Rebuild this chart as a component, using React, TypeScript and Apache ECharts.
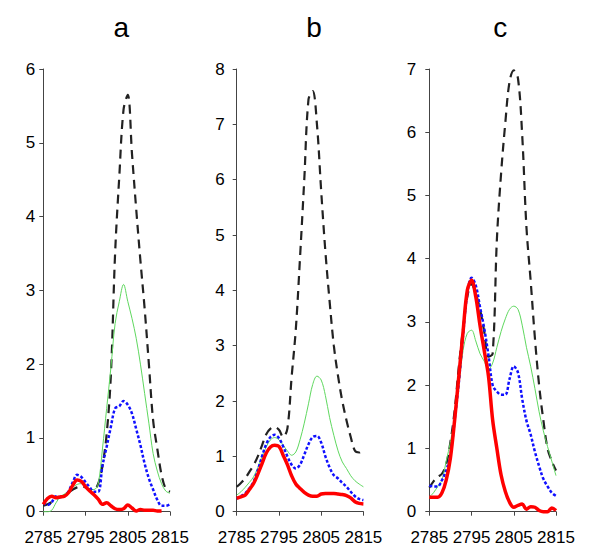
import React, { useEffect, useRef } from "react";
import * as echarts from "echarts";

const xValues = [2785, 2786, 2787, 2788, 2789, 2790, 2791, 2792, 2793, 2794, 2795, 2796, 2797, 2798, 2799, 2800, 2801, 2802, 2803, 2804, 2805, 2806, 2807, 2808, 2809, 2810, 2811, 2812, 2813, 2814, 2815];

const panelTitles = ["a", "b", "c"];
const yMax = [6, 8, 7];

// panel a
const blackA = [0.08, 0.10, 0.13, 0.17, 0.20, 0.22, 0.26, 0.30, 0.33, 0.34, 0.33, 0.30, 0.30, 0.38, 0.62, 1.05, 1.85, 3.5, 4.55, 5.45, 5.65, 4.85, 4.1, 3.4, 2.75, 2.0, 1.24, 0.85, 0.5, 0.31, 0.27];
const greenA = [0, 0, 0.02, 0.12, 0.2, 0.24, 0.28, 0.33, 0.37, 0.38, 0.35, 0.3, 0.3, 0.38, 0.85, 1.4, 1.95, 2.55, 2.85, 3.08, 2.85, 2.62, 2.35, 2.0, 1.6, 1.2, 0.79, 0.55, 0.38, 0.28, 0.25];
const blueA = [0.12, 0.09, 0.13, 0.21, 0.2, 0.21, 0.28, 0.4, 0.5, 0.47, 0.4, 0.33, 0.27, 0.27, 0.62, 0.88, 1.15, 1.4, 1.43, 1.5, 1.45, 1.33, 1.12, 0.9, 0.65, 0.45, 0.3, 0.16, 0.08, 0.08, 0.1];
const redA = [0.1, 0.18, 0.21, 0.19, 0.2, 0.21, 0.26, 0.36, 0.43, 0.41, 0.34, 0.28, 0.23, 0.17, 0.1, 0.12, 0.08, 0.04, 0.03, 0.04, 0.09, 0.05, 0.01, 0.03, 0.02, 0.02, 0.02, 0.01, 0.01, null, null];

// panel b
const blackB = [0.45, 0.52, 0.6, 0.72, 0.84, 1.0, 1.2, 1.4, 1.5, 1.53, 1.48, 1.35, 1.5, 2.43, 3.3, 4.6, 6.0, 7.45, 7.6, 7.0, 5.8, 4.7, 3.8, 3.0, 2.45, 2.0, 1.65, 1.35, 1.1, 1.07, 1.15];
const greenB = [0.3, 0.36, 0.44, 0.53, 0.63, 0.8, 1.0, 1.17, 1.3, 1.34, 1.3, 1.2, 1.1, 1.02, 1.08, 1.3, 1.6, 1.95, 2.3, 2.45, 2.38, 2.1, 1.7, 1.38, 1.1, 0.9, 0.78, 0.65, 0.56, 0.5, 0.45];
const blueB = [0.24, 0.28, 0.33, 0.42, 0.54, 0.75, 1.0, 1.22, 1.35, 1.39, 1.33, 1.18, 1.0, 0.85, 0.78, 0.85, 1.03, 1.22, 1.35, 1.37, 1.25, 1.0, 0.8, 0.66, 0.6, 0.52, 0.45, 0.36, 0.28, 0.23, 0.21];
const redB = [0.24, 0.27, 0.3, 0.4, 0.51, 0.68, 0.87, 1.06, 1.17, 1.2, 1.18, 1.02, 0.85, 0.65, 0.5, 0.42, 0.35, 0.3, 0.28, 0.28, 0.32, 0.33, 0.33, 0.33, 0.32, 0.31, 0.29, 0.25, 0.18, 0.15, 0.14];

// panel c
const blackC = [0.38, 0.48, 0.55, 0.6, 0.75, 1.1, 1.6, 2.3, 2.9, 3.4, 3.6, 3.45, 3.2, 2.85, 2.45, 2.5, 4.3, 5.35, 6.15, 6.8, 6.98, 6.85, 5.95, 4.5, 3.65, 2.75, 2.0, 1.45, 1.0, 0.8, 0.65];
const greenC = [0.23, 0.3, 0.4, 0.5, 0.8, 1.1, 1.5, 2.0, 2.55, 2.82, 2.87, 2.7, 2.5, 2.38, 2.25, 2.35, 2.6, 2.85, 3.05, 3.2, 3.25, 3.2, 2.95, 2.6, 2.3, 1.95, 1.58, 1.28, 1.03, 0.8, 0.57];
const blueC = [0.41, 0.4, 0.4, 0.5, 0.65, 0.9, 1.45, 2.05, 2.8, 3.45, 3.7, 3.58, 3.24, 2.9, 2.48, 2.0, 1.9, 1.85, 1.85, 2.1, 2.3, 2.2, 1.78, 1.44, 1.22, 0.95, 0.72, 0.52, 0.4, 0.3, 0.25];
const redC = [0.23, 0.23, 0.23, 0.3, 0.5, 0.85, 1.45, 2.15, 2.85, 3.5, 3.66, 3.4, 2.95, 2.55, 2.15, 1.45, 1.0, 0.58, 0.32, 0.15, 0.07, 0.1, 0.12, 0.04, 0.08, 0.07, 0.02, 0.0, 0.0, 0.06, 0.02];

const panels = [
  { black: blackA, green: greenA, blue: blueA, red: redA },
  { black: blackB, green: greenB, blue: blueB, red: redB },
  { black: blackC, green: greenC, blue: blueC, red: redC },
];

const gridLefts = [43.3, 236.7, 429.3];
const yLabelMargins = [8, 12, 13];
const titleX = [121.3, 314, 500.3];

const FONT = "Arial, 'Liberation Sans', sans-serif";

export default function App() {
  const ref = useRef<HTMLDivElement>(null);
  useEffect(() => {
    if (!ref.current) return;
    const chart = echarts.init(ref.current, undefined, { renderer: "svg" });
    const pair = (ys: (number | null)[]) => xValues.map((x, i) => [x, ys[i]]);
    const grids = gridLefts.map((l) => ({ left: l, top: 69, width: 126.7, height: 442.7 }));
    const xAxes = gridLefts.map((_, i) => ({
      type: "value",
      gridIndex: i,
      min: 2785,
      max: 2815,
      interval: 10,
      splitLine: { show: false },
      axisLine: { lineStyle: { color: "#444", width: 1 } },
      axisTick: { show: true, length: 4, lineStyle: { color: "#444" } },
      axisLabel: {
        fontSize: 17,
        color: "#000",
        fontFamily: FONT,
        margin: 17,
        hideOverlap: false,
        formatter: (v: number) => String(v),
      },
    }));
    const yAxes = gridLefts.map((_, i) => ({
      type: "value",
      gridIndex: i,
      min: 0,
      max: yMax[i],
      interval: 1,
      splitLine: { show: false },
      axisLine: { show: true, lineStyle: { color: "#444", width: 1 } },
      axisTick: { show: true, length: 4, lineStyle: { color: "#444" } },
      axisLabel: { fontSize: 17, color: "#000", fontFamily: FONT, margin: yLabelMargins[i] },
    }));
    const series: any[] = [];
    panels.forEach((p, i) => {
      const common = { xAxisIndex: i, yAxisIndex: i, showSymbol: false, smooth: 0.35, clip: false, connectNulls: false };
      series.push({ ...common, type: "line", name: "black" + i, data: pair(p.black), lineStyle: { color: "#222", width: 2.2, type: [9, 6] } });
      series.push({ ...common, type: "line", name: "green" + i, data: pair(p.green), lineStyle: { color: "#5fd85f", width: 1 } });
      series.push({ ...common, type: "line", name: "blue" + i, data: pair(p.blue), lineStyle: { color: "#1010ff", width: 2.5, type: [3, 2] } });
      series.push({ ...common, type: "line", name: "red" + i, data: pair(p.red), lineStyle: { color: "#ff0000", width: 3.5 } });
    });
    chart.setOption({
      animation: false,
      backgroundColor: "#fff",
      grid: grids,
      xAxis: xAxes,
      yAxis: yAxes,
      series,
      graphic: panelTitles.map((t, i) => ({
        type: "text",
        x: titleX[i],
        y: 27.6,
        style: { text: t, font: `28px ${FONT}`, fill: "#000", align: "center", verticalAlign: "middle" },
      })),
    });
    return () => chart.dispose();
  }, []);
  return <div ref={ref} style={{ position: "fixed", left: 0, top: 0, width: 600, height: 557 }} />;
}
